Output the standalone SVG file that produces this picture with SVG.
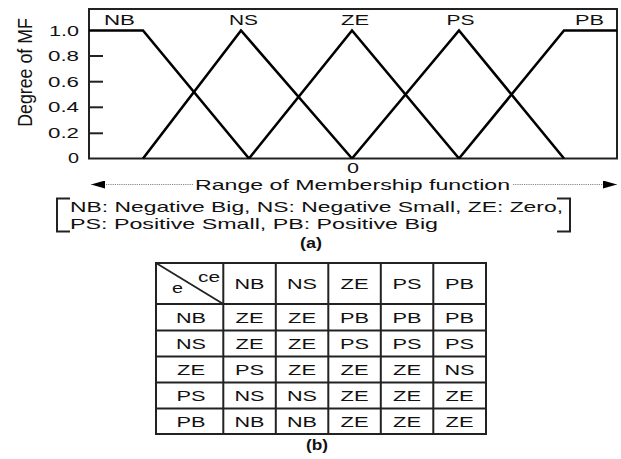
<svg xmlns="http://www.w3.org/2000/svg" width="621" height="459" viewBox="0 0 621 459">
<style>
text{font-family:"Liberation Sans",Arial,sans-serif;fill:#111;}
.t{font-size:15px;text-anchor:middle;}
.tk{font-size:15px;text-anchor:end;}
.frame{fill:none;stroke:#222;stroke-width:2;}
.mf{fill:none;stroke:#000;stroke-width:2.6;stroke-linejoin:miter;}
.grid{fill:none;stroke:#222;stroke-width:2;}
.cap{font-size:15px;font-weight:bold;text-anchor:middle;}
</style>
<defs>
<marker id="ah" viewBox="0 0 14 8" refX="14" refY="4" markerWidth="14" markerHeight="8" markerUnits="userSpaceOnUse" orient="auto"><path d="M0,0 L14,4 L0,8 Z" fill="#000"/></marker>
</defs>
<g id="plot">
<rect class="frame" x="89" y="9" width="528" height="149.5"/>
<g stroke="#222" stroke-width="2">
<line x1="89" y1="56" x2="103" y2="56"/>
<line x1="89" y1="81.7" x2="103" y2="81.7"/>
<line x1="89" y1="107.3" x2="103" y2="107.3"/>
<line x1="89" y1="133.3" x2="103" y2="133.3"/>
</g>
<text class="tk" x="79" y="35.5" textLength="30" lengthAdjust="spacingAndGlyphs">1.0</text>
<text class="tk" x="79" y="61" textLength="31" lengthAdjust="spacingAndGlyphs">0.8</text>
<text class="tk" x="79" y="86.7" textLength="31" lengthAdjust="spacingAndGlyphs">0.6</text>
<text class="tk" x="79" y="112.3" textLength="31" lengthAdjust="spacingAndGlyphs">0.4</text>
<text class="tk" x="79" y="138.3" textLength="31" lengthAdjust="spacingAndGlyphs">0.2</text>
<text class="tk" x="79" y="163.3" textLength="11" lengthAdjust="spacingAndGlyphs">0</text>
<text font-size="14" text-anchor="middle" transform="translate(32,72.5) rotate(-90) scale(1.27,1.5)">Degree of MF</text>
</g>
<g id="mf-NB"><polyline class="mf" points="89,30.5 143,30.5 249,158.5"/><text class="t" x="119.5" y="25" textLength="31" lengthAdjust="spacingAndGlyphs">NB</text></g>
<g id="mf-NS"><polyline class="mf" points="143,158.5 241,30.5 352,158.5"/><text class="t" x="243.5" y="25" textLength="29" lengthAdjust="spacingAndGlyphs">NS</text></g>
<g id="mf-ZE"><polyline class="mf" points="249,158.5 352,30.5 459,158.5"/><text class="t" x="355" y="25" textLength="28" lengthAdjust="spacingAndGlyphs">ZE</text></g>
<g id="mf-PS"><polyline class="mf" points="352,158.5 459,30.5 564,158.5"/><text class="t" x="460.5" y="25" textLength="28" lengthAdjust="spacingAndGlyphs">PS</text></g>
<g id="mf-PB"><polyline class="mf" points="459,158.5 564,30.5 617,30.5"/><text class="t" x="589.5" y="25" textLength="29" lengthAdjust="spacingAndGlyphs">PB</text></g>
<g id="range">
<text class="t" x="353" y="173" font-size="12.5" textLength="12" lengthAdjust="spacingAndGlyphs">0</text>
<text class="t" x="352.5" y="190" textLength="315" lengthAdjust="spacingAndGlyphs">Range of Membership function</text>
</g>
<g id="connectors">
<line x1="193" y1="184.5" x2="91" y2="184.5" stroke="#888" stroke-width="1" stroke-dasharray="1.2 1" marker-end="url(#ah)"/>
<line x1="513" y1="184.5" x2="617" y2="184.5" stroke="#888" stroke-width="1" stroke-dasharray="1.2 1" marker-end="url(#ah)"/>
</g>
<g id="legend">
<polyline points="70,198.5 57,198.5 57,231.5 70,231.5" fill="none" stroke="#222" stroke-width="2"/>
<polyline points="557,198.5 570,198.5 570,231.5 557,231.5" fill="none" stroke="#222" stroke-width="2"/>
<text font-size="15" x="70" y="212" textLength="493" lengthAdjust="spacingAndGlyphs">NB: Negative Big, NS: Negative Small, ZE: Zero,</text>
<text font-size="15" x="70" y="228.5" textLength="368" lengthAdjust="spacingAndGlyphs">PS: Positive Small, PB: Positive Big</text>
<text class="cap" x="311" y="248" textLength="22" lengthAdjust="spacingAndGlyphs">(a)</text>
</g>
<g id="table">
<rect class="grid" x="156" y="263" width="330" height="171"/>
<g stroke="#222" stroke-width="2">
<line x1="223.3" y1="263" x2="223.3" y2="434"/>
<line x1="275.8" y1="263" x2="275.8" y2="434"/>
<line x1="328.3" y1="263" x2="328.3" y2="434"/>
<line x1="380.8" y1="263" x2="380.8" y2="434"/>
<line x1="433.3" y1="263" x2="433.3" y2="434"/>
<line x1="156" y1="304" x2="486" y2="304"/>
<line x1="156" y1="330.5" x2="486" y2="330.5"/>
<line x1="156" y1="356.5" x2="486" y2="356.5"/>
<line x1="156" y1="382.5" x2="486" y2="382.5"/>
<line x1="156" y1="408.5" x2="486" y2="408.5"/>
<line x1="156" y1="263" x2="223.3" y2="304" stroke-width="1.8"/>
</g>
<text font-size="15" x="198" y="282" textLength="22" lengthAdjust="spacingAndGlyphs">ce</text>
<text font-size="15" x="172" y="293" textLength="11" lengthAdjust="spacingAndGlyphs">e</text>
<g class="hdr">
<text class="t" x="249.5" y="289" textLength="30" lengthAdjust="spacingAndGlyphs">NB</text>
<text class="t" x="302" y="289" textLength="30" lengthAdjust="spacingAndGlyphs">NS</text>
<text class="t" x="354.5" y="289" textLength="28" lengthAdjust="spacingAndGlyphs">ZE</text>
<text class="t" x="407" y="289" textLength="29" lengthAdjust="spacingAndGlyphs">PS</text>
<text class="t" x="459.5" y="289" textLength="29" lengthAdjust="spacingAndGlyphs">PB</text>
</g>
<g id="row-NB">
<text class="t" x="191" y="322.5" textLength="30" lengthAdjust="spacingAndGlyphs">NB</text>
<text class="t" x="249.5" y="322.5" textLength="28" lengthAdjust="spacingAndGlyphs">ZE</text>
<text class="t" x="302" y="322.5" textLength="28" lengthAdjust="spacingAndGlyphs">ZE</text>
<text class="t" x="354.5" y="322.5" textLength="29" lengthAdjust="spacingAndGlyphs">PB</text>
<text class="t" x="407" y="322.5" textLength="29" lengthAdjust="spacingAndGlyphs">PB</text>
<text class="t" x="459.5" y="322.5" textLength="29" lengthAdjust="spacingAndGlyphs">PB</text>
</g>
<g id="row-NS">
<text class="t" x="191" y="348.5" textLength="30" lengthAdjust="spacingAndGlyphs">NS</text>
<text class="t" x="249.5" y="348.5" textLength="28" lengthAdjust="spacingAndGlyphs">ZE</text>
<text class="t" x="302" y="348.5" textLength="28" lengthAdjust="spacingAndGlyphs">ZE</text>
<text class="t" x="354.5" y="348.5" textLength="29" lengthAdjust="spacingAndGlyphs">PS</text>
<text class="t" x="407" y="348.5" textLength="29" lengthAdjust="spacingAndGlyphs">PS</text>
<text class="t" x="459.5" y="348.5" textLength="29" lengthAdjust="spacingAndGlyphs">PS</text>
</g>
<g id="row-ZE">
<text class="t" x="191" y="374.5" textLength="28" lengthAdjust="spacingAndGlyphs">ZE</text>
<text class="t" x="249.5" y="374.5" textLength="29" lengthAdjust="spacingAndGlyphs">PS</text>
<text class="t" x="302" y="374.5" textLength="28" lengthAdjust="spacingAndGlyphs">ZE</text>
<text class="t" x="354.5" y="374.5" textLength="28" lengthAdjust="spacingAndGlyphs">ZE</text>
<text class="t" x="407" y="374.5" textLength="28" lengthAdjust="spacingAndGlyphs">ZE</text>
<text class="t" x="459.5" y="374.5" textLength="30" lengthAdjust="spacingAndGlyphs">NS</text>
</g>
<g id="row-PS">
<text class="t" x="191" y="400.5" textLength="29" lengthAdjust="spacingAndGlyphs">PS</text>
<text class="t" x="249.5" y="400.5" textLength="30" lengthAdjust="spacingAndGlyphs">NS</text>
<text class="t" x="302" y="400.5" textLength="30" lengthAdjust="spacingAndGlyphs">NS</text>
<text class="t" x="354.5" y="400.5" textLength="28" lengthAdjust="spacingAndGlyphs">ZE</text>
<text class="t" x="407" y="400.5" textLength="28" lengthAdjust="spacingAndGlyphs">ZE</text>
<text class="t" x="459.5" y="400.5" textLength="28" lengthAdjust="spacingAndGlyphs">ZE</text>
</g>
<g id="row-PB">
<text class="t" x="191" y="426.5" textLength="29" lengthAdjust="spacingAndGlyphs">PB</text>
<text class="t" x="249.5" y="426.5" textLength="30" lengthAdjust="spacingAndGlyphs">NB</text>
<text class="t" x="302" y="426.5" textLength="30" lengthAdjust="spacingAndGlyphs">NB</text>
<text class="t" x="354.5" y="426.5" textLength="28" lengthAdjust="spacingAndGlyphs">ZE</text>
<text class="t" x="407" y="426.5" textLength="28" lengthAdjust="spacingAndGlyphs">ZE</text>
<text class="t" x="459.5" y="426.5" textLength="28" lengthAdjust="spacingAndGlyphs">ZE</text>
</g>
<text class="cap" x="317" y="450" textLength="22" lengthAdjust="spacingAndGlyphs">(b)</text>
</g>
</svg>
